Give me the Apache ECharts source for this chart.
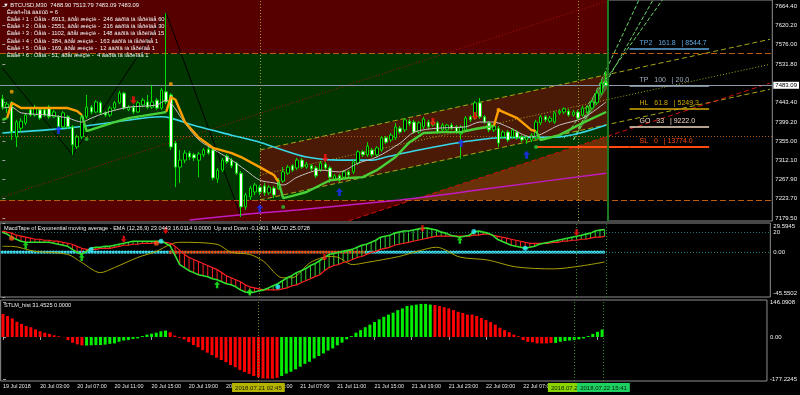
<!DOCTYPE html>
<html>
<head>
<meta charset="utf-8">
<title>BTCUSD M30</title>
<script src="https://cdn.jsdelivr.net/npm/echarts@6.0.0/dist/echarts.min.js"></script>
<style>
html,body{margin:0;padding:0;background:#000;overflow:hidden;}
#chart{width:800px;height:395px;}
</style>
</head>
<body>
<div id="chart"></div>
<script>
// ---------------- DATA ----------------
// candles: [open, close, low, high] per M30 bar, index 0 = 19 Jul 23:00
const candles = [
[7452,7433,7427,7461],[7433,7440,7420,7445],[7443,7376,7358,7447],[7365,7399,7342,7404],[7385,7401,7376,7408],
[7397,7415,7392,7420],[7427,7415,7411,7431],[7415,7433,7411,7438],[7427,7408,7404,7431],[7427,7415,7411,7433],
[7433,7411,7406,7438],[7411,7422,7408,7427],[7411,7388,7383,7415],[7388,7420,7385,7424],[7411,7388,7383,7415],
[7388,7347,7324,7392],[7342,7365,7337,7369],[7365,7411,7360,7415],[7411,7433,7406,7461],[7433,7422,7417,7438],
[7422,7445,7420,7449],[7443,7420,7415,7447],[7420,7415,7411,7424],[7415,7431,7411,7436],[7431,7443,7427,7447],
[7443,7465,7440,7470],[7465,7431,7427,7468],[7427,7433,7424,7438],[7433,7422,7417,7438],[7422,7443,7420,7447],
[7438,7449,7433,7454],[7445,7433,7429,7461],[7433,7445,7429,7484],[7449,7431,7427,7454],[7431,7472,7427,7477],
[7468,7445,7440,7648],[7461,7342,7335,7465],[7351,7296,7250,7356],[7296,7312,7260,7335],[7312,7328,7305,7335],
[7328,7319,7312,7333],[7324,7317,7310,7328],[7312,7326,7273,7331],[7324,7335,7319,7340],[7337,7328,7324,7342],
[7335,7271,7266,7340],[7269,7289,7260,7294],[7289,7312,7285,7317],[7321,7308,7303,7326],[7312,7299,7294,7317],
[7305,7282,7278,7308],[7282,7205,7182,7287],[7205,7232,7198,7237],[7228,7248,7221,7253],[7239,7255,7232,7260],
[7250,7239,7232,7255],[7253,7237,7230,7260],[7237,7250,7232,7255],[7248,7232,7225,7253],[7248,7266,7244,7271],
[7264,7285,7260,7296],[7282,7296,7278,7301],[7299,7289,7285,7303],[7294,7312,7289,7317],[7312,7296,7292,7317],
[7296,7303,7292,7308],[7299,7292,7287,7303],[7294,7276,7271,7299],[7289,7305,7285,7310],[7303,7294,7289,7308],
[7294,7273,7260,7299],[7266,7276,7264,7280],[7276,7266,7262,7280],[7273,7285,7269,7289],[7285,7278,7273,7289],
[7285,7308,7280,7312],[7305,7331,7301,7335],[7331,7324,7319,7335],[7324,7344,7319,7353],[7335,7324,7319,7340],
[7324,7340,7319,7344],[7335,7363,7331,7367],[7363,7353,7349,7367],[7358,7369,7353,7374],[7363,7388,7358,7397],
[7385,7376,7372,7390],[7381,7404,7376,7408],[7401,7395,7390,7406],[7399,7376,7372,7404],[7376,7397,7372,7401],
[7388,7406,7383,7411],[7399,7388,7383,7404],[7392,7399,7388,7404],[7397,7376,7372,7401],[7381,7392,7376,7397],
[7381,7392,7376,7395],[7392,7385,7381,7397],[7388,7376,7372,7392],[7372,7388,7315,7392],[7381,7408,7376,7413],
[7411,7404,7399,7415],[7408,7443,7404,7447],[7443,7411,7406,7454],[7411,7399,7395,7415],[7397,7381,7376,7401],
[7381,7390,7376,7395],[7385,7351,7342,7390],[7365,7376,7360,7381],[7376,7358,7353,7381],[7365,7381,7360,7385],
[7376,7363,7358,7381],[7365,7358,7353,7369],[7358,7365,7349,7369],[7358,7369,7353,7374],[7363,7399,7358,7404],
[7397,7411,7392,7415],[7411,7404,7399,7415],[7401,7408,7397,7413],[7399,7420,7395,7424],[7420,7424,7415,7429],
[7422,7429,7417,7433],[7424,7415,7411,7429],[7415,7422,7411,7427],[7422,7408,7404,7427],[7415,7431,7411,7436],
[7422,7433,7417,7438],[7431,7445,7427,7449],[7443,7465,7438,7470],[7465,7488,7461,7495],[7488.90,7483.09,7483.09,7513.79]
];
const timeTicks = [[0,'19 Jul 2018'],[8,'20 Jul 03:00'],[16,'20 Jul 07:00'],[24,'20 Jul 11:00'],[32,'20 Jul 15:00'],
[40,'20 Jul 19:00'],[48,'20 Jul 23:00'],[56,'21 Jul 03:00'],[64,'21 Jul 07:00'],[72,'21 Jul 11:00'],[80,'21 Jul 15:00'],
[88,'21 Jul 19:00'],[96,'21 Jul 23:00'],[104,'22 Jul 03:00'],[112,'22 Jul 07:00'],[120,'22 Jul 11:00'],[128,'22 Jul 15:00']];
const priceTicks = [7664.40,7620.20,7576.00,7531.80,7443.40,7399.20,7355.00,7312.10,7267.90,7223.70,7179.50];
const lastPrice = 7483.09;
const macdTicks = [29.5945,20,0,-45.5502];
const macdTickText = ['29.5945','20','0.00','-45.5502'];
const stlmTicks = [146.0908,0,-177.2245];
const stlmTickText = ['146.0908','0.00','-177.2245'];

// moving averages [barIndex, price]
const maGray = [[0,7431],[2,7433],[4,7420],[10,7415],[14,7408],[17,7399],[19,7408],[22,7420],[27,7433],[33,7438],[35,7449],[36,7443],[39,7397],[42,7358],[46,7331],[49,7312],[52,7289],[55,7266],[58,7260],[60,7255],[63,7273],[68,7289],[72,7285],[76,7305],[80,7319],[85,7351],[88,7376],[93,7385],[99,7388],[102,7399],[105,7399],[108,7388],[113,7365],[119,7392],[124,7408],[129,7445]];
const maCyan = [[0,7374],[14,7385],[24,7399],[34,7411],[36,7408],[42,7388],[49,7369],[55,7353],[58,7342],[65,7319],[72,7312],[79,7312],[82,7319],[89,7335],[97,7351],[106,7363],[119,7365],[129,7392]];
const maMagenta = [[40,7175],[50,7186],[55,7191],[63,7198],[85,7221],[97,7237],[106,7250],[129,7282]];
const trendDown = [
 [[1,7408],[2,7443],[4,7431],[10,7431],[14,7431],[16,7424],[17,7415]],
 [[35,7422],[36,7456],[37,7450],[39,7399],[42,7363],[45,7340],[49,7328],[51,7319],[55,7296],[58,7278],[59,7262]],
 [[105,7390],[106,7427],[110,7408],[113,7381],[114,7378]]
];
const trendUp = [
 [[0,7404],[1,7408]],
 [[17,7415],[18,7378],[20,7385],[24,7399],[27,7408],[30,7413],[34,7420],[35,7422]],
 [[59,7262],[60,7225],[62,7230],[65,7239],[70,7266],[74,7271],[77,7273],[80,7289],[84,7319],[87,7353],[90,7374],[94,7376],[98,7376],[101,7383],[105,7390]],
 [[114,7378],[115,7358],[119,7369],[124,7397],[129,7422]]
];
// zones & drawn objects (price levels / bar positions)
const zoneLevels = [[7556,7678.1],[7220.7,7556],[7172.7,7220.7]];
const zoneStart = -0.5, zoneEnd = 129.3;
const channelFill = [[55,7335.1],[129.3,7507.7],[129.3,7393.4],[55,7220.7]];
const orangeFill = [[87.6,7220.7],[129.3,7366.6],[129.3,7220.7]];
const blackFill = [[74,7172.7],[87.6,7220.7],[129.3,7220.7],[129.3,7172.7]];
const steepFill = [[122,7358],[129.3,7520],[129.3,7478]];
const chanUpper = [[55,7335.1],[164,7588.2]];
const chanMid = [[55,7277.9],[164,7531.0]];
const chanLower = [[55,7220.7],[164,7473.9]];
const redDash = [[74,7173],[164,7488]];
const redDot = [[0,7227.6],[129,7675]];
const steep1 = [[122,7358],[136,7678]];
const steep2 = [[122,7358],[139,7678]];
const steep3 = [[120,7362],[141,7678]];
const zigzag = [[0,7522.6],[15,7323.6],[35,7648.4],[51,7182]];
const hLevels = [7556, 7220.7, 7366];
const fibNames = ['TP2','TP','HL','GO','SL'];
const fibPct = ['161.8','100','61.8','33','0'];
const fibVals = ['8544.7','20.0','5249.3','9222.0','13774.0'];
const fibPrices = [7567.6,7481.4,7428.8,7388.3,7342.6];
const fibLabelFrom = 134, fibTo = 151, slFrom = 114;
const vLines = [55, 123, 129.3];
const vLineTimes = ['2018.07.21 02:45','2018.07.22 12:45','2018.07.22 15:41'];
// signals on price
const sigDown = [[28,7449],[69,7317],[92,7399],[101,7413]];
const sigUp = [[12,7381],[55,7202],[72,7239],[98,7351],[112,7324]];
const dotOrange = [[2,7468],[36,7486],[106,7427]];
const dotGreen = [[18,7360],[60,7205],[114,7342]];

// MACD tape
const macdMain = [20.3,18.3,15.2,13.1,11.1,10.0,10.0,10.0,10.0,10.0,10.0,9.0,8.0,7.0,5.9,2.8,-0.2,-2.3,0.8,3.9,
4.9,4.9,5.9,5.9,7.0,8.0,9.0,10.0,11.1,11.1,11.1,11.1,11.1,11.1,11.1,9.0,5.9,-3.3,-12.6,-15.7,
-18.8,-20.8,-22.9,-23.9,-24.9,-27.0,-28.0,-30.1,-32.1,-33.2,-35.2,-38.3,-40.4,-41.4,-40.4,-39.3,-38.3,-36.3,-34.2,-32.1,
-29.1,-26.0,-23.9,-20.8,-18.8,-16.7,-13.6,-11.6,-8.5,-5.4,-2.3,-1.3,-0.2,0.8,1.8,2.8,4.9,7.0,8.0,10.0,
12.1,15.2,16.2,17.2,19.3,20.3,21.4,21.4,22.4,23.4,24.4,24.4,23.4,22.4,20.3,19.3,17.2,16.2,15.2,16.2,
17.2,20.3,21.4,20.3,19.3,17.2,13.1,11.1,9.0,7.0,5.9,4.9,3.9,4.9,5.9,8.0,9.0,10.0,11.1,12.1,
13.1,14.2,15.2,16.2,17.2,18.3,19.3,21.4,22.4,23.04];
const macdSignal = [21.4,20.3,19.3,17.2,16.2,15.2,14.2,13.1,13.1,12.1,12.1,11.1,11.1,10.0,9.0,8.0,5.9,3.9,2.8,2.8,
2.8,3.9,3.9,3.9,4.9,5.9,7.0,7.0,8.0,8.0,9.0,9.0,9.0,10.0,10.0,10.0,9.0,5.9,1.8,-2.3,
-5.4,-7.5,-9.5,-11.6,-13.6,-15.7,-17.7,-20.8,-23.9,-26.0,-28.0,-30.1,-33.2,-35.2,-36.3,-37.3,-38.3,-38.3,-38.3,-38.3,
-37.3,-36.3,-34.2,-33.2,-31.1,-29.1,-27.0,-24.9,-22.9,-18.8,-15.7,-13.6,-12.6,-10.5,-9.5,-7.5,-5.4,-4.4,-2.3,-0.2,
0.8,2.8,3.9,4.9,7.0,8.0,9.0,10.0,11.1,12.1,13.1,14.2,15.2,16.2,16.2,16.2,16.2,16.2,16.2,16.2,
16.2,17.2,17.2,18.3,18.3,17.2,16.2,15.2,14.2,13.1,12.1,11.1,10.0,9.0,9.0,9.0,9.0,9.0,10.0,10.0,
11.1,11.1,12.1,12.1,13.1,13.1,14.2,15.2,15.2,16.01];
const macdYellow = [[0,5.9],[2,5.9],[7,0.8],[14,-2.3],[17,-10.5],[21,-20.8],[24,-15.7],[29,-5.4],[33,0.8],[36,8.0],[38,10.0],[46,8.0],[49,-0.2],[53,-2.3],[56,-9.5],[60,-26.0],[62,-26.0],[66,-10.5],[70,-4.4],[72,-5.4],[75,-12.6],[78,-10.5],[85,-4.4],[89,1],[93,5],[98,-5],[104,-8],[110,-15],[118,-17],[124,-14],[129,-10]];
const zeroCyanA = [[0,0],[36,0]], zeroOrange = [[36,0],[78,0]], zeroCyanB = [[78,0],[129,0]];
const macdDotOrange = [[2,14.2],[33,9.0]];
const macdDotCyan = [[19,2.8],[34,11.1],[59,-35.2],[101,21],[112,4]];
const macdUp = [[5,7.0],[17,-5.4],[46,-33.2],[53,-40.5],[98,12]];
const macdDown = [[26,13.1],[35,22.0],[69,-5.4],[90,24],[123,20]];

// STLM histogram
const stlm = [96.6,88,78,64,55,46,41,32,24,18,13,7,3,-1,-13,-24,-31,-35,-36,-35,
-34,-34,-32,-29,-27,-20,-15,-13,-8,-6,4,10,14,18,24,27,20,6,-3,-10,
-22,-34,-43,-55,-66,-76,-87,-97,-106,-118,-127,-139,-147,-155,-164,-169,-174,-175,-175,-172,
-164,-154,-146,-136,-125,-113,-104,-90,-80,-69,-57,-48,-35,-24,-10,4,18,29,41,52,
63,74,85,94,102,113,120,130,133,136,139,139,136,134,130,125,120,113,106,101,
94,94,88,80,71,63,52,39,29,20,10,3,-13,-20,-22,-27,-27,-27,-25,-25,
-20,-17,-15,-13,-10,-6,4,13,22,31.45];
const stlmDir = 'dddddddddddddddddduuuuuuuuuuuuuuuuuudddddddddddddddddddddddduuuuuuuuuuuuuuuuuuuuuuuuuuuuuuuuudddddddddddddddddddddddddduuuuuuuuuuuu';

const headerLines = [
 '\u25BC BTCUSD,M30  7488.90 7513.79 7483.09 7483.09',
 '\u00CA\u00EB\u00E0\u00F1+\u00CC\u00EE\u00E4 \u00E4\u00E0\u00ED\u00ED\u00FB\u00F5 = 6',
 '\u00C8\u00E4\u00E5\u00EB \u00B9 1 : \u00D6\u00E5\u00ED\u00E0 - 8913, \u00E2\u00F0\u00E5\u00EC \u00E6\u00E8\u00E7\u00ED\u00E8 -  246 \u00E1\u00E0\u00F0\u00EE\u00E2 \u00ED\u00E0 \u00EF\u00E5\u00F0\u00E8\u00EE\u00E4\u00E5 60',
 '\u00C8\u00E4\u00E5\u00EB \u00B9 2 : \u00D6\u00E5\u00ED\u00E0 - 2551, \u00E2\u00F0\u00E5\u00EC \u00E6\u00E8\u00E7\u00ED\u00E8 -  216 \u00E1\u00E0\u00F0\u00EE\u00E2 \u00ED\u00E0 \u00EF\u00E5\u00F0\u00E8\u00EE\u00E4\u00E5 30',
 '\u00C8\u00E4\u00E5\u00EB \u00B9 3 : \u00D6\u00E5\u00ED\u00E0 - 1102, \u00E2\u00F0\u00E5\u00EC \u00E6\u00E8\u00E7\u00ED\u00E8 -  148 \u00E1\u00E0\u00F0\u00EE\u00E2 \u00ED\u00E0 \u00EF\u00E5\u00F0\u00E8\u00EE\u00E4\u00E5 15',
 '\u00C8\u00E4\u00E5\u00EB \u00B9 4 : \u00D6\u00E5\u00ED\u00E0 - 384, \u00E2\u00F0\u00E5\u00EC \u00E6\u00E8\u00E7\u00ED\u00E8 -  163 \u00E1\u00E0\u00F0\u00EE\u00E2 \u00ED\u00E0 \u00EF\u00E5\u00F0\u00E8\u00EE\u00E4\u00E5 1',
 '\u00C8\u00E4\u00E5\u00EB \u00B9 5 : \u00D6\u00E5\u00ED\u00E0 - 169, \u00E2\u00F0\u00E5\u00EC \u00E6\u00E8\u00E7\u00ED\u00E8 -  12 \u00E1\u00E0\u00F0\u00EE\u00E2 \u00ED\u00E0 \u00EF\u00E5\u00F0\u00E8\u00EE\u00E4\u00E5 1',
 '\u00C8\u00E4\u00E5\u00EB \u00B9 6 : \u00D6\u00E5\u00ED\u00E0 - 51, \u00E2\u00F0\u00E5\u00EC \u00E6\u00E8\u00E7\u00ED\u00E8 -  4 \u00E1\u00E0\u00F0\u00EE\u00E2 \u00ED\u00E0 \u00EF\u00E5\u00F0\u00E8\u00EE\u00E4\u00E5 1'
];
const macdTitle = 'MacdTape of Exponential moving average - EMA (12,26,9) 23.0443 16.0114 0.0000  Up and Down -0.1401  MACD 25.0728';
const stlmTitle = 'STLM_hist 31.4525 0.0000';

// ---------------- CHART ----------------
const FONT = 'Liberation Sans';
const NSLOT = 165;
const slots = []; for (let i = 0; i < NSLOT; i++) slots.push(String(i));
const tickMap = {}; timeTicks.forEach(t => { tickMap[t[0]] = t[1]; });
const chart = echarts.init(document.getElementById('chart'));

const gridBase = {left:0, right:24, show:true, borderColor:'#8f8f8f', borderWidth:1, backgroundColor:'transparent'};
const grids = [
  Object.assign({top:0, height:221}, gridBase),
  Object.assign({top:223, height:74}, gridBase),
  Object.assign({top:300, height:81}, gridBase)
];
function xCat(gi, show) {
  return {type:'category', gridIndex:gi, data:slots, boundaryGap:true,
    axisLine:{show:false},
    axisTick:{show:show, alignWithLabel:true, interval:(i)=>tickMap[i]!==undefined, length:3, lineStyle:{color:'#a0a0a0'}},
    axisLabel:{show:show, interval:(i)=>tickMap[i]!==undefined, formatter:(v,i)=>tickMap[i]||'', color:'#e6e6e6',
      fontSize:5.4, fontFamily:FONT, align:'left', margin:3},
    splitLine:{show:false}};
}
function xVal(gi) { return {type:'value', gridIndex:gi, min:-0.5, max:NSLOT-0.5, show:false}; }
function yAx(gi, min, max, ticks, fmt) {
  return {type:'value', gridIndex:gi, position:'right', min:min, max:max,
    axisLine:{show:false},
    axisTick:{show:true, customValues:ticks, length:3, lineStyle:{color:'#a0a0a0'}},
    axisLabel:{customValues:ticks, formatter:fmt, color:'#f0f0f0', fontSize:6, fontFamily:FONT, margin:3,
      rich:{t:{padding:[7,0,0,0], fontSize:6, color:'#f0f0f0', fontFamily:FONT}, b:{padding:[0,0,7,0], fontSize:6, color:'#f0f0f0', fontFamily:FONT}}},
    splitLine:{show:false}};
}

function line(data, color, width, type, xi, yi, z, extra) {
  return Object.assign({type:'line', xAxisIndex:xi, yAxisIndex:yi, data:data, symbol:'none', silent:true,
    lineStyle:{color:color, width:width, type:type}, z:z, animation:false}, extra||{});
}
function poly(pts, color, z) {
  return {type:'custom', xAxisIndex:3, yAxisIndex:0, silent:true, z:z, data:[pts[0]],
    renderItem:(p, api) => ({type:'polygon', shape:{points: pts.map(q => api.coord(q))}, style:{fill:color}})};
}
const arrowUp = 'path://M5,0L10,5L7,5L7,10L3,10L3,5L0,5Z';
const arrowDown = 'path://M3,0L7,0L7,5L10,5L5,10L0,5L3,5Z';
function marks(data, symbol, size, color, xi, yi) {
  return {type:'scatter', xAxisIndex:xi, yAxisIndex:yi, data:data, symbol:symbol, symbolSize:size,
    itemStyle:{color:color}, silent:true, z:20};
}

const series = [];
// background zones
series.push({type:'custom', xAxisIndex:3, yAxisIndex:0, silent:true, z:0,
  data: zoneLevels.map(z => [zoneStart, z[0]]),
  renderItem:(p, api) => {
    const z = zoneLevels[p.dataIndex];
    const a = api.coord([zoneStart, z[1]]), b = api.coord([zoneEnd, z[0]]);
    const cols = ['#560000','#013601','#560000'];
    return {type:'rect', shape:{x:a[0], y:a[1], width:b[0]-a[0], height:b[1]-a[1]}, style:{fill:cols[p.dataIndex]}};
  }});
series.push(poly(channelFill, '#4a1a06', 1));
series.push(poly(orangeFill, '#6a3008', 1));
series.push(poly(blackFill, '#000000', 1));
series.push(poly(steepFill, 'rgba(90,200,90,0.45)', 1));
// horizontal levels + last price
series.push({type:'line', xAxisIndex:3, yAxisIndex:0, data:[], silent:true, z:3,
  markLine:{symbol:'none', silent:true, animation:false,
    data:[
      {yAxis:hLevels[0], lineStyle:{color:'#b85a10', type:[6,3], width:1}, label:{show:false}},
      {yAxis:hLevels[1], lineStyle:{color:'#b85a10', type:[6,3], width:1}, label:{show:false}},
      {yAxis:hLevels[2], lineStyle:{color:'#b05a10', type:[1,2], width:1}, label:{show:false}},
      {yAxis:lastPrice, lineStyle:{color:'#8a98a8', type:'solid', width:1},
        label:{show:true, position:'end', distance:1, formatter:lastPrice.toFixed(2), backgroundColor:'#ffffff', color:'#000',
          padding:[1,2,0,2], fontSize:6, fontFamily:FONT}}
    ]}});
// drawn lines
series.push(line(chanUpper, '#a8a818', 1, [5,3], 3, 0, 3));
series.push(line(chanMid, '#a8a818', 1, [1,2], 3, 0, 3));
series.push(line(chanLower, '#a8a818', 1, [5,3], 3, 0, 3));
series.push(line(redDash, '#d01010', 1, [5,3], 3, 0, 3));
series.push(line(redDot, '#b01010', 1, [1,2], 3, 0, 3));
series.push(line(steep1, '#6ad66a', 1, [4,2], 3, 0, 3));
series.push(line(steep2, '#6ad66a', 1, [4,2], 3, 0, 3));
series.push(line(steep3, '#6ad66a', 1, [4,2], 3, 0, 3));
series.push(line(zigzag, '#000000', 1, 'solid', 3, 0, 4));
// fib levels
const fibColors = ['#5fa8e0','#9fb0bf','#d4a800','#f0d8c0','#ff4a10'];
const fibLines = [];
fibPrices.forEach((p, k) => {
  const w = k === 4 ? 2 : 1.5;
  fibLines.push([
    {coord:[fibLabelFrom, p], lineStyle:{color:fibColors[k], width:w, type:'solid'},
      label:{show:true, position:'insideStartTop', distance:2, color:fibColors[k], fontSize:7, fontFamily:FONT,
        padding:[0,0,0,8], formatter: fibNames[k] + '   ' + fibPct[k] + '   | ' + fibVals[k]}},
    {coord:[fibTo, p]}
  ]);
});
fibLines.push([{coord:[slFrom, fibPrices[4]], lineStyle:{color:fibColors[4], width:2, type:'solid'}, label:{show:false}},
               {coord:[fibLabelFrom, fibPrices[4]]}]);
series.push({type:'line', xAxisIndex:3, yAxisIndex:0, data:[], silent:true, z:6,
  markLine:{symbol:'none', silent:true, animation:false, data: fibLines}});
// moving averages
series.push(line(maMagenta, '#c01cc0', 1.5, 'solid', 3, 0, 7, {smooth:0.3}));
series.push(line(maCyan, '#38d8e8', 1.6, 'solid', 3, 0, 7, {smooth:0.3}));
series.push(line(maGray, '#c8c0c0', 1, 'solid', 3, 0, 9, {smooth:0.3}));
trendDown.forEach(seg => series.push(line(seg, '#ffa000', 2.4, 'solid', 3, 0, 9)));
trendUp.forEach(seg => series.push(line(seg, '#48d038', 2.4, 'solid', 3, 0, 9)));
// candles
series.push({type:'candlestick', xAxisIndex:0, yAxisIndex:0, data:candles, barWidth:3, silent:true, z:8,
  itemStyle:{color:'#000000', color0:'#ffffff', borderColor:'#00e000', borderColor0:'#00e000', borderWidth:1}});
// signals
series.push(marks(sigDown, arrowDown, [7,8], '#ff1010', 3, 0));
series.push(marks(sigUp, arrowUp, [7,8], '#1a30ff', 3, 0));
series.push(marks(dotOrange, 'circle', 4, '#ffa000', 3, 0));
series.push(marks(dotGreen, 'circle', 4, '#30c030', 3, 0));
// vertical lines main
series.push({type:'line', xAxisIndex:3, yAxisIndex:0, data:[], silent:true, z:5,
  markLine:{symbol:'none', silent:true, animation:false, label:{show:false},
    data:[{xAxis:vLines[0], lineStyle:{color:'#a0a030', type:[1,2], width:1}},
          {xAxis:vLines[1], lineStyle:{color:'#a0a030', type:[1,2], width:1}},
          {xAxis:vLines[2], lineStyle:{color:'#1e7a1e', type:'solid', width:2}}]}});

// ---- MACD panel ----
series.push({type:'line', xAxisIndex:4, yAxisIndex:1, data:[], silent:true, z:2,
  markLine:{symbol:'none', silent:true, animation:false, label:{show:false},
    data:[{yAxis:20, lineStyle:{color:'#1a6a6a', type:[1,2], width:1}},
          {yAxis:0, lineStyle:{color:'#1a7a7a', type:[1,2], width:1}},
          {xAxis:vLines[0], lineStyle:{color:'#8a8a28', type:[1,2], width:1}},
          {xAxis:vLines[1], lineStyle:{color:'#3a8a2a', type:[1,2], width:1}},
          {xAxis:vLines[2], lineStyle:{color:'#2a8a2a', type:[1,2], width:1}}]}});
series.push(line(zeroCyanA, '#40d8e8', 3.2, [0.1,2.9], 4, 1, 3, {lineStyle:{color:'#40d8e8', width:3.2, type:[0.1,2.9], cap:'round'}}));
series.push(line(zeroOrange, '#e0501a', 3.2, [0.1,2.9], 4, 1, 3, {lineStyle:{color:'#e0501a', width:3.2, type:[0.1,2.9], cap:'round'}}));
series.push(line(zeroCyanB, '#40d8e8', 3.2, [0.1,2.9], 4, 1, 3, {lineStyle:{color:'#40d8e8', width:3.2, type:[0.1,2.9], cap:'round'}}));
series.push({type:'custom', xAxisIndex:4, yAxisIndex:1, silent:true, z:4,
  data: macdMain.map((v, i) => [i, v, macdSignal[i]]),
  renderItem:(p, api) => {
    const i = api.value(0), a = api.coord([i, api.value(1)]), b = api.coord([i, api.value(2)]);
    const up = api.value(1) >= api.value(2);
    return {type:'line', shape:{x1:a[0], y1:a[1], x2:b[0], y2:b[1]}, style:{stroke: up ? '#30d030' : '#ff2020', lineWidth:1}};
  }});
series.push(line(macdYellow, '#a8a000', 1, 'solid', 4, 1, 5, {smooth:0.3}));
series.push(line(macdSignal.map((v,i)=>[i,v]), '#ff2020', 1.2, 'solid', 4, 1, 6));
series.push(line(macdMain.map((v,i)=>[i,v]), '#30e030', 1.6, 'solid', 4, 1, 7));
series.push(marks(macdDotOrange, 'circle', 5, '#ff5a1a', 4, 1));
series.push(marks(macdDotCyan, 'circle', 5, '#30f0ff', 4, 1));
series.push(marks(macdUp, arrowUp, [6,7], '#20ff20', 4, 1));
series.push(marks(macdDown, arrowDown, [6,7], '#ff1010', 4, 1));

// ---- STLM panel ----
series.push({type:'bar', xAxisIndex:2, yAxisIndex:2, barWidth:3, silent:true, z:3,
  data: stlm.map((v, i) => ({value:v, itemStyle:{color: stlmDir[i]==='u' ? '#00ee00' : '#ff0000'}}))});
series.push({type:'line', xAxisIndex:5, yAxisIndex:2, data:[], silent:true, z:5,
  markLine:{symbol:'none', silent:true, animation:false,
    data:[
      {xAxis:vLines[0], lineStyle:{color:'#8a8a28', type:[1,2], width:1},
        label:{show:true, position:'start', distance:2, formatter:vLineTimes[0], backgroundColor:'#b4b400', color:'#202000', padding:[2,3,1,3], fontSize:6, fontFamily:FONT}},
      {xAxis:vLines[1], lineStyle:{color:'#3a8a2a', type:[1,2], width:1},
        label:{show:true, position:'start', distance:2, formatter:vLineTimes[1], backgroundColor:'#8ad400', color:'#102000', padding:[2,3,1,3], fontSize:6, fontFamily:FONT}},
      {xAxis:vLines[2], lineStyle:{color:'#2a8a2a', type:[1,2], width:1},
        label:{show:true, position:'start', distance:2, formatter:vLineTimes[2], backgroundColor:'#1ed060', color:'#002010', padding:[2,3,1,3], fontSize:6, fontFamily:FONT}}
    ]}});

const graphic = [];
headerLines.forEach((t, k) => {
  graphic.push({type:'text', left: k===0 ? 3 : 7, top: k===0 ? 2 : 9.5 + (k-1)*7.1, z:100, silent:true,
    style:{text:t, fill:'#f4f4f4', font:'5.8px ' + FONT}});
});
graphic.push({type:'text', left:4, top:225, z:100, silent:true, style:{text:macdTitle, fill:'#f0f0f0', font:'5.6px ' + FONT}});
graphic.push({type:'text', left:4, top:302, z:100, silent:true, style:{text:stlmTitle, fill:'#f0f0f0', font:'5.6px ' + FONT}});

chart.setOption({
  backgroundColor:'#000000',
  animation:false,
  textStyle:{fontFamily:FONT},
  grid: grids,
  xAxis: [xCat(0,false), xCat(1,false), xCat(2,true), xVal(0), xVal(1), xVal(2)],
  yAxis: [
    yAx(0, 7172.7, 7678.1, priceTicks, v => v.toFixed(2)),
    yAx(1, -45.5502, 29.5945, macdTicks, v => { const k = macdTicks.indexOf(v); const s = k>=0 ? macdTickText[k] : String(v);
      return k===0 ? '{t|'+s+'}' : (k===macdTicks.length-1 ? '{b|'+s+'}' : s); }),
    yAx(2, -184.9, 155.4, stlmTicks, v => { const k = stlmTicks.indexOf(v); return k>=0 ? stlmTickText[k] : String(v); })
  ],
  graphic: graphic,
  series: series
});
</script>
</body>
</html>
